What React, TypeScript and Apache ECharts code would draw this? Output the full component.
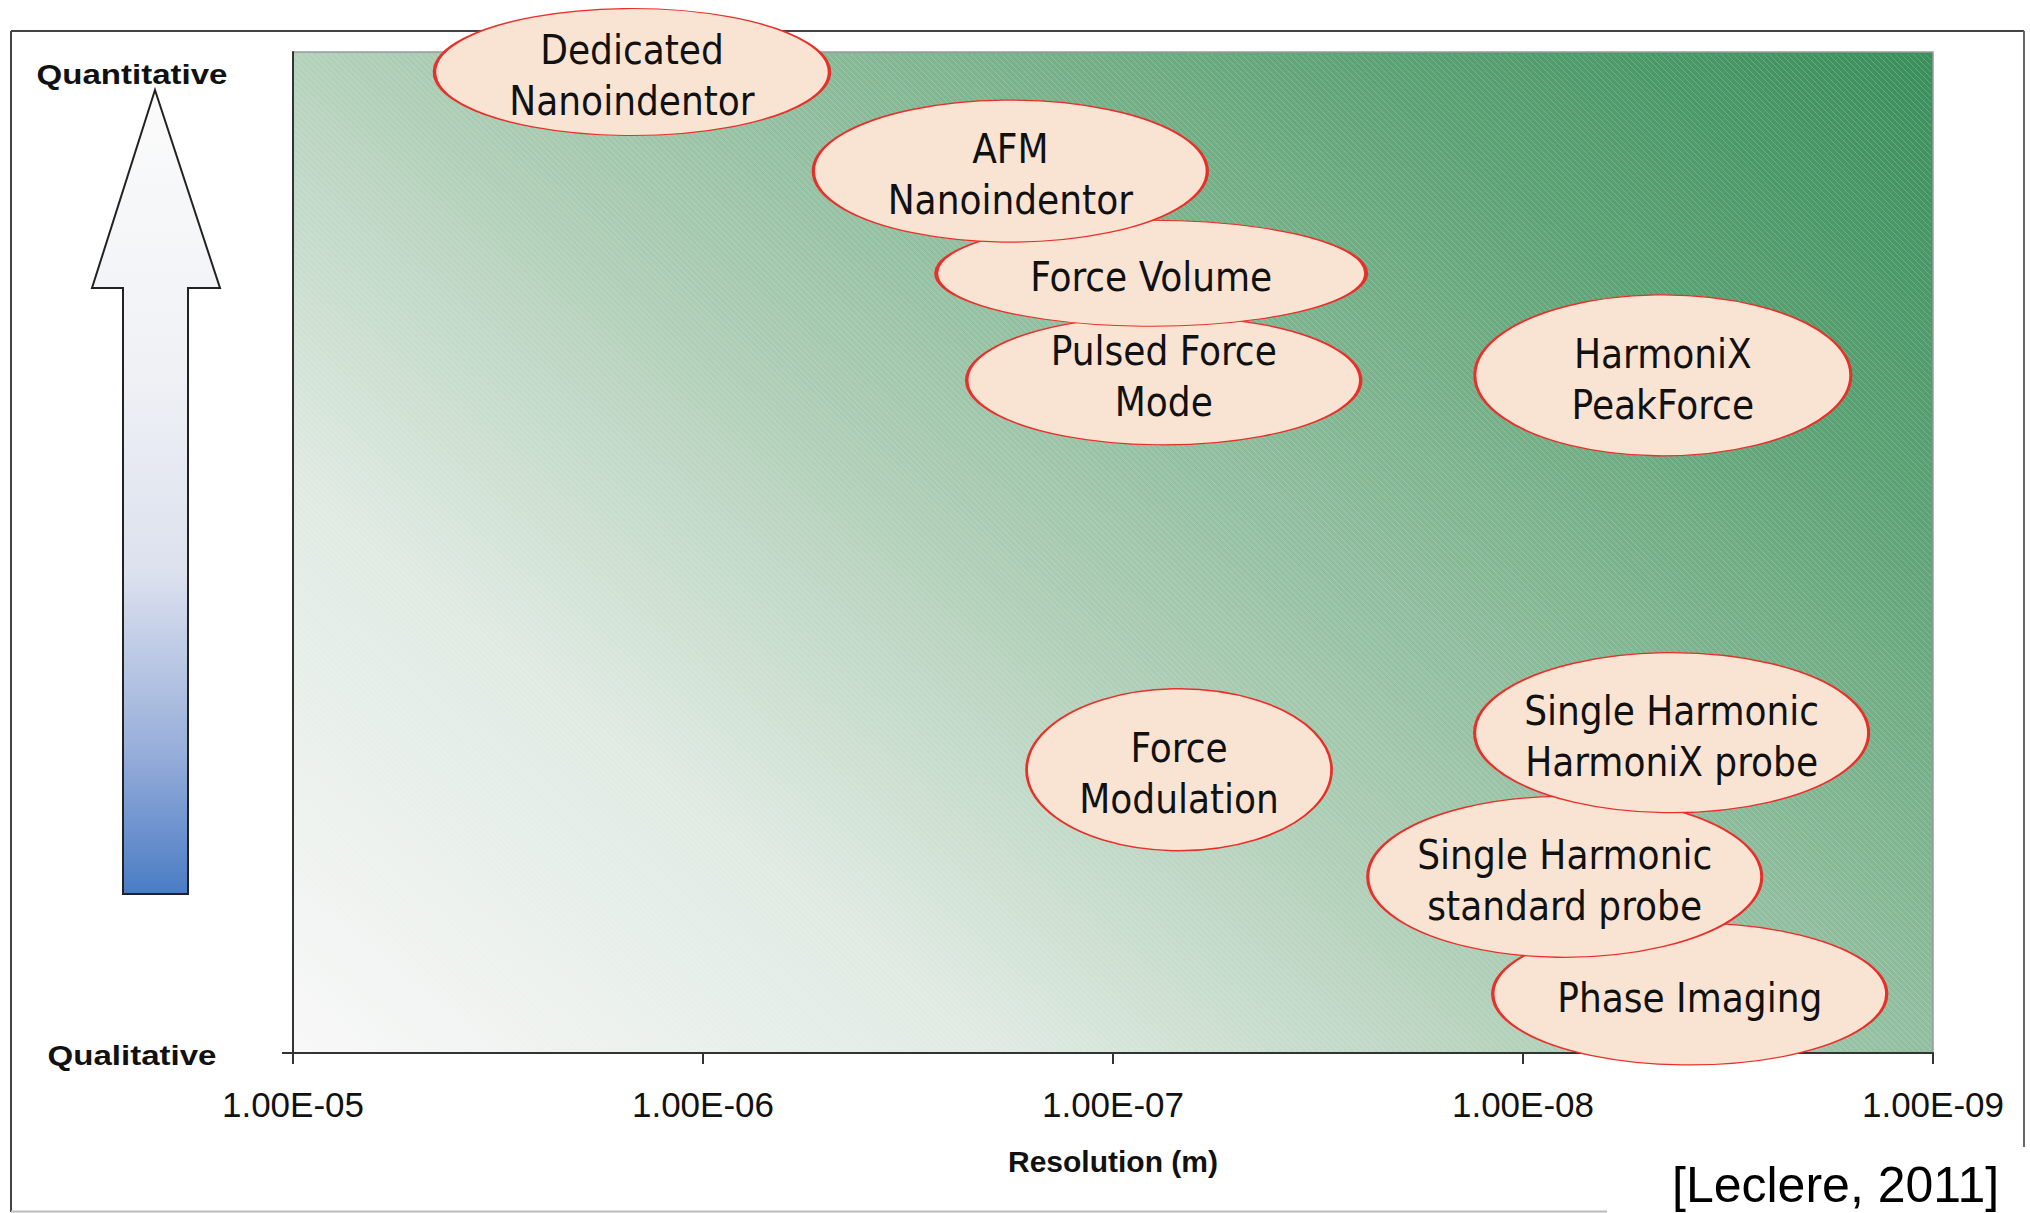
import React, { useEffect, useRef } from 'react';
import * as echarts from 'echarts';

// ---- data ----
const techniques: string[] = [
  'Phase Imaging',
  'Single Harmonic\nstandard probe',
  'Single Harmonic\nHarmoniX probe',
  'Force\nModulation',
  'HarmoniX\nPeakForce',
  'Pulsed Force\nMode',
  'Force Volume',
  'AFM\nNanoindentor',
  'Dedicated\nNanoindentor',
];
// lateral resolution (m)
const resolution: number[] = [3.92e-9, 7.91e-9, 4.34e-9, 6.9e-8, 4.56e-9, 7.52e-8, 8.07e-8, 1.78e-7, 1.49e-6];
// qualitative (0) -> quantitative (100)
const quantitative: number[] = [5.9, 17.6, 32.0, 28.3, 67.7, 67.2, 77.9, 88.1, 98.0];
const xTickValues: number[] = [1e-5, 1e-6, 1e-7, 1e-8, 1e-9];
const xTickLabels: string[] = ['1.00E-05', '1.00E-06', '1.00E-07', '1.00E-08', '1.00E-09'];

// ---- styles ----
const bubbleSizes: number[][] = [
  [394, 142], [394, 161], [394, 160], [305, 162], [376, 161],
  [394, 129], [430, 106], [394, 142], [395, 127],
];
const labelOffsets: number[][] = [
  [0, 4], [0, 4], [0, 4], [0, 4], [0, 4], [0, -4], [0, 4], [0, 3], [0, 3],
];
const GRID = { left: 293, top: 52, right: 97, bottom: 160 };
const W = 2030;
const H = 1213;

function stripeLines() {
  const x0 = GRID.left + 2, x1 = W - GRID.right - 2;
  const y0 = GRID.top + 2, y1 = H - GRID.bottom - 2;
  const out: any[] = [];
  for (let c = y0 - x1; c <= y1 - x0; c += 6) {
    const sx = Math.max(x0, y0 - c);
    const ex = Math.min(x1, y1 - c);
    if (ex > sx) {
      out.push({
        type: 'line',
        silent: true,
        shape: { x1: sx, y1: sx + c, x2: ex, y2: ex + c },
        style: { stroke: '#ffffff', lineWidth: 1, opacity: 0.2 },
      });
    }
  }
  return out;
}

export default function App() {
  const ref = useRef<HTMLDivElement>(null);
  useEffect(() => {
    if (!ref.current) return;
    const chart = echarts.init(ref.current, null, { renderer: 'svg' });
    const bg = {
      type: 'linear',
      x: 293, y: 1053, x2: 1431, y2: -354,
      global: true,
      colorStops: [
        { offset: 0, color: '#f8f8f8' },
        { offset: 0.25, color: '#dfeae2' },
        { offset: 0.43, color: '#b4d1bb' },
        { offset: 0.6, color: '#8bbb9a' },
        { offset: 0.8, color: '#5ca274' },
        { offset: 1, color: '#3a8f5b' },
      ],
    };
    const arrowFill = new echarts.graphic.LinearGradient(0, 0, 0, 1, [
      { offset: 0, color: '#fbfbfb' },
      { offset: 0.35, color: '#eff1f5' },
      { offset: 0.6, color: '#dce1ee' },
      { offset: 0.82, color: '#98afda' },
      { offset: 1, color: '#4a7cc4' },
    ]);
    const option: any = {
      animation: false,
      backgroundColor: '#ffffff',
      grid: {
        left: GRID.left, top: GRID.top, right: GRID.right, bottom: GRID.bottom,
        show: true,
        backgroundColor: bg,
        borderColor: '#9a9a9a',
        borderWidth: 1.5,
      },
      xAxis: {
        type: 'log',
        logBase: 10,
        min: 1e-9,
        max: 1e-5,
        inverse: true,
        name: 'Resolution (m)',
        nameLocation: 'middle',
        nameGap: 93,
        nameTextStyle: { fontFamily: 'Liberation Sans, Arial', fontSize: 30, fontWeight: 'bold', color: '#111' },
        axisLine: { show: true, lineStyle: { color: '#333', width: 2 } },
        axisTick: { show: true, length: 11, lineStyle: { color: '#333', width: 2 } },
        minorTick: { show: false },
        splitLine: { show: false },
        axisLabel: {
          margin: 34,
          fontFamily: 'Liberation Sans, Arial',
          fontSize: 35,
          color: '#111',
          formatter: (v: number) => {
            let best = 0;
            xTickValues.forEach((t, i) => {
              if (Math.abs(Math.log10(t) - Math.log10(v)) < Math.abs(Math.log10(xTickValues[best]) - Math.log10(v))) best = i;
            });
            return xTickLabels[best];
          },
        },
      },
      yAxis: {
        type: 'value',
        min: 0,
        max: 100,
        axisLine: { show: true, lineStyle: { color: '#333', width: 2 } },
        axisTick: { show: true, length: 11, customValues: [0], lineStyle: { color: '#333', width: 2 } },
        axisLabel: { show: false },
        splitLine: { show: false },
      },
      graphic: [
        { type: 'line', z: 0, silent: true, shape: { x1: 11, y1: 31, x2: 2024, y2: 31 }, style: { stroke: '#444', lineWidth: 2 } },
        { type: 'line', z: 0, silent: true, shape: { x1: 11, y1: 31, x2: 11, y2: 1212 }, style: { stroke: '#444', lineWidth: 2 } },
        { type: 'line', z: 0, silent: true, shape: { x1: 2024, y1: 31, x2: 2024, y2: 1212 }, style: { stroke: '#666', lineWidth: 2 } },
        { type: 'line', z: 0, silent: true, shape: { x1: 11, y1: 1211.5, x2: 2024, y2: 1211.5 }, style: { stroke: '#bbb', lineWidth: 2 } },
        { type: 'group', z: 1, silent: true, children: stripeLines() },
        {
          type: 'polygon', z: 1, silent: true,
          shape: { points: [[155, 90], [220, 288], [188, 288], [188, 894], [123, 894], [123, 288], [92, 288]] },
          style: { fill: arrowFill, stroke: '#222', lineWidth: 2 },
        },
        {
          type: 'text', z: 3, silent: true, x: 132, y: 74, scaleX: 1.18,
          style: { text: 'Quantitative', x: 0, y: 0, align: 'center', verticalAlign: 'middle', fontFamily: 'Liberation Sans, Arial', fontWeight: 'bold', fontSize: 28, fill: '#111' },
        },
        {
          type: 'text', z: 3, silent: true, x: 132, y: 1055, scaleX: 1.18,
          style: { text: 'Qualitative', x: 0, y: 0, align: 'center', verticalAlign: 'middle', fontFamily: 'Liberation Sans, Arial', fontWeight: 'bold', fontSize: 28, fill: '#111' },
        },
        { type: 'rect', z: 10, silent: true, shape: { x: 1607, y: 1147, width: 423, height: 66 }, style: { fill: '#ffffff' } },
        {
          type: 'text', z: 11, silent: true,
          style: { text: '[Leclere, 2011]', x: 1672, y: 1185, align: 'left', verticalAlign: 'middle', fontFamily: 'Liberation Sans, Arial', fontSize: 50, fill: '#000' },
        },
      ],
      series: [
        {
          type: 'scatter',
          clip: false,
          silent: true,
          z: 5,
          symbol: 'circle',
          data: techniques.map((name, i) => ({
            name,
            value: [resolution[i], quantitative[i]],
            symbolSize: bubbleSizes[i],
            label: { offset: labelOffsets[i] },
          })),
          itemStyle: { color: '#f9e4d4', borderColor: '#e8302a', borderWidth: 2, opacity: 1 },
          label: {
            show: true,
            position: 'inside',
            formatter: (p: any) => p.name,
            fontFamily: 'DejaVu Sans Condensed, DejaVu Sans',
            fontSize: 40,
            lineHeight: 51,
            color: '#111',
          },
          emphasis: { disabled: true },
        },
      ],
    };
    chart.setOption(option);
    return () => chart.dispose();
  }, []);
  return <div ref={ref} style={{ position: 'absolute', left: 0, top: 0, width: W, height: H }} />;
}
